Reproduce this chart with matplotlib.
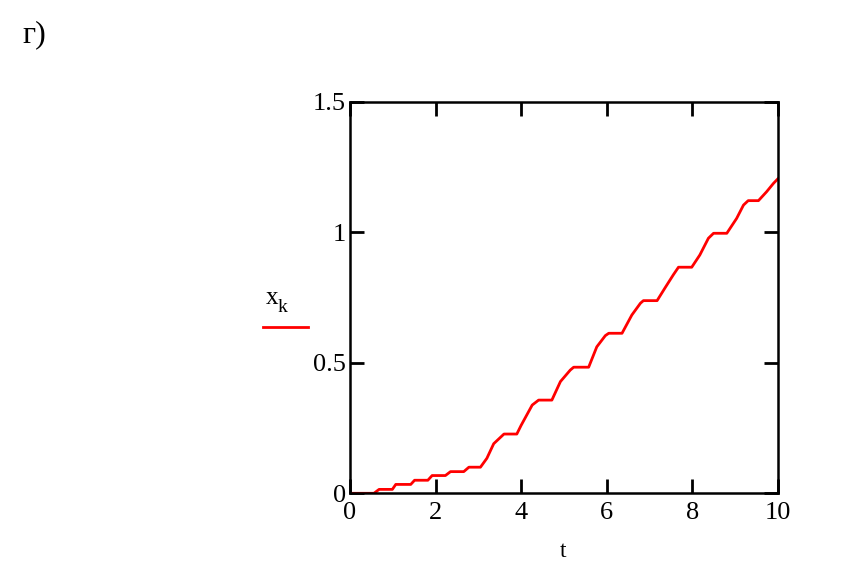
import matplotlib.pyplot as plt
from matplotlib.lines import Line2D

# staircase response x_k(t)
t = [0.0, 0.56, 0.68, 0.99, 1.07, 1.42, 1.51, 1.82, 1.92, 2.23, 2.35, 2.66, 2.78, 3.05,
     3.2, 3.36, 3.6, 3.9, 4.0, 4.26, 4.41, 4.72, 4.92, 5.15, 5.23, 5.58,
     5.77, 5.97, 6.05, 6.36, 6.59, 6.79, 6.86, 7.18, 7.37, 7.56, 7.68, 7.99,
     8.18, 8.38, 8.5, 8.81, 9.04, 9.2, 9.31, 9.55, 9.74, 9.9, 10.0]
xk = [0.0, 0.0, 0.015, 0.015, 0.034, 0.034, 0.05, 0.05, 0.068, 0.068, 0.083, 0.083, 0.1, 0.1,
      0.134, 0.19, 0.227, 0.227, 0.26, 0.338, 0.357, 0.357, 0.428, 0.472, 0.483, 0.483,
      0.561, 0.604, 0.613, 0.613, 0.683, 0.728, 0.738, 0.738, 0.788, 0.837, 0.866, 0.866,
      0.913, 0.977, 0.996, 0.996, 1.053, 1.104, 1.121, 1.121, 1.155, 1.187, 1.204]

xticks = [0, 2, 4, 6, 8, 10]
yticks = [0, 0.5, 1, 1.5]
yticklabels = ["0", "0.5", "1", "1.5"]

W, H = 844, 564
fig = plt.figure(figsize=(W / 100, H / 100), dpi=100)
ax = fig.add_axes([350 / W, 1 - 493.3 / H, 427.7 / W, 391.6 / H])

ax.plot(t, xk, color="red", lw=2)
ax.set_xlim(0, 10)
ax.set_ylim(0, 1.5)
ax.set_xticks(xticks)
ax.set_xticklabels([str(v) for v in xticks])
ax.set_yticks(yticks)
ax.set_yticklabels(yticklabels)

font = "Liberation Serif"
for s in ax.spines.values():
    s.set_linewidth(1.8)
ax.tick_params(direction="in", length=10, width=2, top=True, right=True,
               labelsize=19, pad=6)
ax.tick_params(axis="y", pad=3)
for lab in ax.get_xticklabels() + ax.get_yticklabels():
    lab.set_fontfamily(font)

# axis labels the Mathcad way
fig.text(563 / W, 1 - 562 / H, "t", fontsize=17, family=font, ha="center", va="bottom")
fig.text(266 / W, 1 - 304 / H, "x", fontsize=18, family=font, ha="left", va="baseline")
fig.text(278 / W, 1 - 312 / H, "k", fontsize=14, family=font, ha="left", va="baseline")
fig.add_artist(Line2D([263 / W, 308 / W], [1 - 327 / H, 1 - 327 / H],
                      color="red", lw=2, transform=fig.transFigure))

fig.text(22 / W, 1 - 42 / H, "г)", fontsize=23, family=font, ha="left", va="baseline")

fig.savefig("out.png", dpi=100)
